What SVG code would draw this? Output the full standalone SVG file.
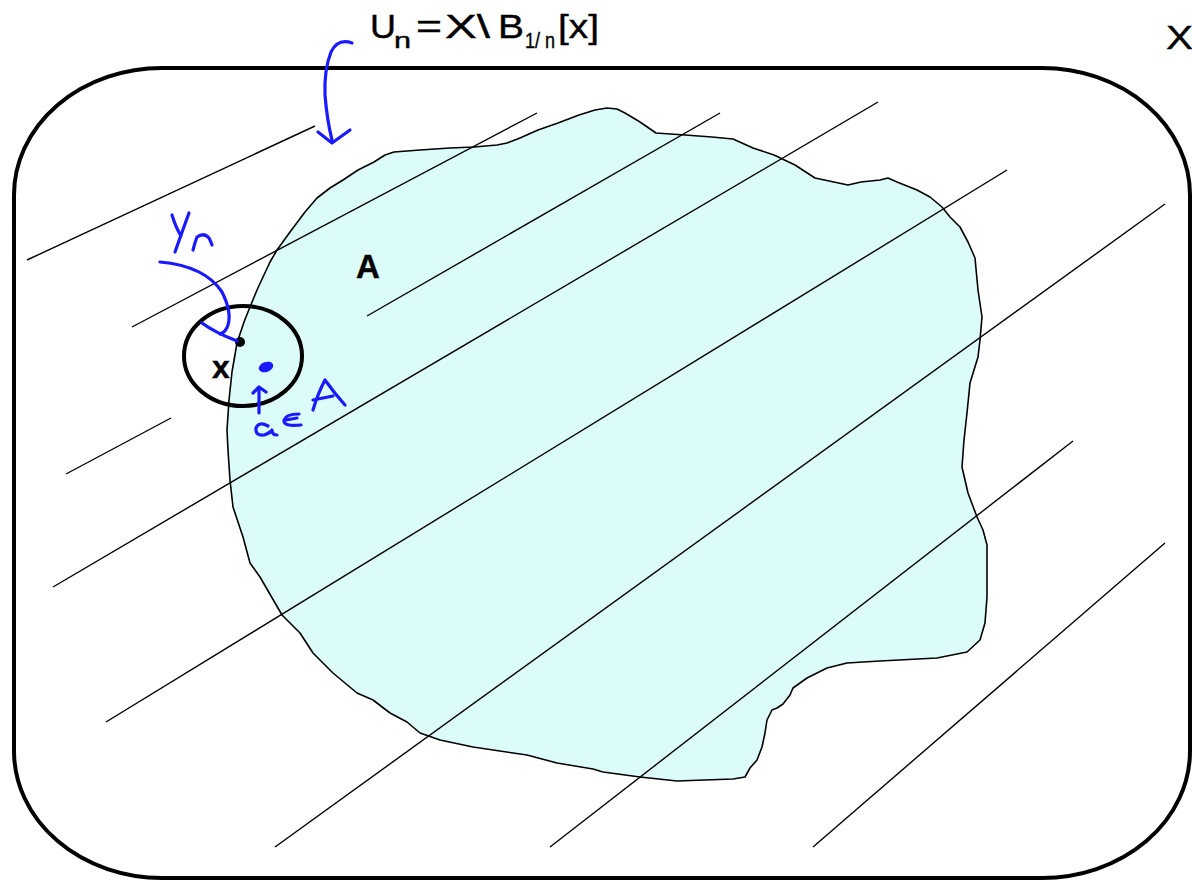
<svg xmlns="http://www.w3.org/2000/svg" width="1192" height="880" viewBox="0 0 1192 880">
<style>
.lbl{font-family:"Liberation Sans",Arial,sans-serif;fill:#000;stroke:#000;stroke-width:0.4}
.hatch{stroke:#000;stroke-width:1.4;fill:none}
.ink{stroke:#1a1aff;stroke-width:3.2;fill:none;stroke-linecap:round;stroke-linejoin:round}
</style>
<rect width="1192" height="880" fill="#fff"/>
<g id="space-X">
<rect x="14" y="68" width="1176" height="810" rx="148" ry="127" fill="none" stroke="#000" stroke-width="4"/>
<text class="lbl" x="1166" y="49" font-size="33" textLength="27" lengthAdjust="spacingAndGlyphs">X</text>
</g>
<g id="set-A">
<polygon fill="#dcfcfa" stroke="#000" stroke-width="1.6" stroke-linejoin="round" points="227,430 229,400 232,372 237,343 244,322 250,307 257,290 263,277 270,262 277,250 290,232 305,212 317,198 330,188 343,180 358,170 374,162 385,155 394,152 420,150 450,148 474,147 497,145 507,143 520,138 538,130 558,123 579,115 595,110 607,108 617,109 625,113 640,122 656,133 685,135 712,137 733,139 753,148 774,155 795,165 815,178 848,185 861,182 880,180 888,178 897,182 917,190 930,197 942,207 950,217 960,227 968,242 975,258 978,290 982,317 980,340 978,357 970,383 967,413 964,440 962,467 968,493 977,517 983,530 987,545 987,597 985,623 980,640 967,652 937,658 880,661 847,663 827,668 807,678 793,688 790,695 783,704 777,708 772,710 767,720 765,733 762,747 757,760 750,768 745,777 733,779 677,781 640,777 603,772 593,769 557,763 527,755 473,747 440,740 420,733 407,722 390,713 373,700 357,693 333,673 313,653 300,633 282,615 260,577 250,563 243,537 233,507 230,480 228,450"/>
<text class="lbl" x="356" y="278" font-size="33" font-weight="bold" stroke-width="0">A</text>
</g>
<g id="hatching">
<line class="hatch" x1="27" y1="260" x2="315" y2="126"/>
<line class="hatch" x1="132" y1="327" x2="537" y2="113"/>
<line class="hatch" x1="367" y1="316" x2="720" y2="113"/>
<line class="hatch" x1="66" y1="474" x2="171" y2="418"/>
<line class="hatch" x1="53" y1="587" x2="878" y2="102"/>
<line class="hatch" x1="106" y1="722" x2="1007" y2="170"/>
<line class="hatch" x1="275" y1="847" x2="1165" y2="204"/>
<line class="hatch" x1="550" y1="847" x2="1073" y2="441"/>
<line class="hatch" x1="813" y1="847" x2="1165" y2="543"/>
</g>
<g id="ball">
<ellipse cx="243" cy="356" rx="59" ry="50" fill="none" stroke="#000" stroke-width="4"/>
<circle cx="240" cy="342" r="5" fill="#000"/>
<text class="lbl" x="212" y="378" font-size="32" font-weight="bold" stroke-width="0">x</text>
</g>
<g id="title">
<text class="lbl" x="370" y="38" font-size="33" textLength="26" lengthAdjust="spacingAndGlyphs">U</text>
<text class="lbl" x="394" y="48" font-size="22" textLength="17" lengthAdjust="spacingAndGlyphs">n</text>
<text class="lbl" x="416" y="38" font-size="33" textLength="26" lengthAdjust="spacingAndGlyphs">=</text>
<text class="lbl" x="445" y="38" font-size="33" textLength="45" lengthAdjust="spacingAndGlyphs">X\</text>
<text class="lbl" x="498" y="38" font-size="33" textLength="26" lengthAdjust="spacingAndGlyphs">B</text>
<text class="lbl" x="525" y="48" font-size="22" textLength="30" lengthAdjust="spacingAndGlyphs">1/ n</text>
<text class="lbl" x="558" y="38" font-size="33" textLength="41" lengthAdjust="spacingAndGlyphs">[x]</text>
</g>
<g id="annotations">
<path class="ink" d="M352,43 Q338,38 331,52 Q324,70 325,95 Q327,120 332,140"/>
<path class="ink" d="M318,132 L332,143 L350,130"/>
<path class="ink" d="M172,215 Q176,228 181,236 M189,213 Q182,232 175,252"/>
<path class="ink" d="M193,250 Q195,242 197,237 Q204,232 209,238 Q211,242 212,245"/>
<path class="ink" d="M160,262 Q205,266 222,292 Q232,312 228,325 Q226,332 220,334"/>
<path class="ink" d="M202,323 Q214,332 237,341"/>
<ellipse cx="266" cy="367" rx="7.5" ry="5" fill="#1a1aff" transform="rotate(-20 266 367)"/>
<path class="ink" d="M259,413 L259,388 M253,393 L259,387 L266,392"/>
<path class="ink" d="M268,426 Q259,421 256,428 Q255,436 264,435 Q270,433 272,430 Q272,435 277,435"/>
<path class="ink" d="M299,414 Q286,414 284,420 Q283,427 301,425 M286,420 L297,418"/>
<path class="ink" d="M313,410 Q318,393 325,380 Q335,394 345,405 M313,400 Q323,398 333,396"/>
</g>
</svg>
